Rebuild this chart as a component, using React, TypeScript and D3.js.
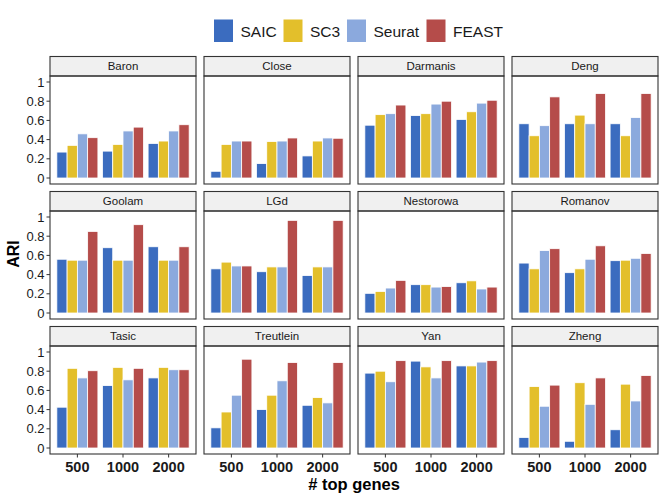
import React from "react";
import * as d3 from "d3";

const datasets = ["Baron", "Close", "Darmanis", "Deng", "Goolam", "LGd", "Nestorowa", "Romanov", "Tasic", "Treutlein", "Yan", "Zheng"];
const geneCounts = ["500", "1000", "2000"];
const methods = ["SAIC", "SC3", "Seurat", "FEAST"];
const methodColors = ["#3B6CBF", "#E3BF2B", "#8BA9DD", "#B54C4A"];
const yTicks = [0, 0.2, 0.4, 0.6, 0.8, 1];
const yTickLabels = ["0", "0.2", "0.4", "0.6", "0.8", "1"];

// values[dataset] = per gene count: [SAIC, SC3, Seurat, FEAST]
const baron = [[0.27, 0.34, 0.46, 0.42], [0.28, 0.35, 0.49, 0.53], [0.36, 0.385, 0.49, 0.555]];
const close = [[0.07, 0.35, 0.385, 0.385], [0.15, 0.38, 0.385, 0.417], [0.23, 0.385, 0.417, 0.414]];
const darmanis = [[0.55, 0.66, 0.67, 0.76], [0.65, 0.67, 0.77, 0.80], [0.61, 0.69, 0.78, 0.81]];
const deng = [[0.565, 0.44, 0.545, 0.845], [0.565, 0.655, 0.565, 0.88], [0.565, 0.44, 0.63, 0.88]];
const goolam = [[0.56, 0.55, 0.55, 0.85], [0.68, 0.55, 0.55, 0.92], [0.69, 0.55, 0.55, 0.69]];
const lgd = [[0.46, 0.53, 0.49, 0.49], [0.43, 0.48, 0.48, 0.965], [0.39, 0.48, 0.48, 0.965]];
const nestorowa = [[0.205, 0.225, 0.26, 0.34], [0.295, 0.295, 0.27, 0.275], [0.315, 0.335, 0.25, 0.27]];
const romanov = [[0.52, 0.46, 0.65, 0.67], [0.42, 0.46, 0.56, 0.70], [0.545, 0.55, 0.57, 0.62]];
const tasic = [[0.425, 0.83, 0.73, 0.805], [0.65, 0.84, 0.71, 0.83], [0.73, 0.84, 0.815, 0.815]];
const treutlein = [[0.21, 0.375, 0.55, 0.925], [0.40, 0.55, 0.70, 0.89], [0.445, 0.525, 0.47, 0.89]];
const yan = [[0.78, 0.80, 0.69, 0.91], [0.905, 0.845, 0.73, 0.91], [0.855, 0.855, 0.895, 0.91]];
const zheng = [[0.11, 0.64, 0.435, 0.655], [0.07, 0.68, 0.455, 0.73], [0.19, 0.665, 0.49, 0.755]];
const allValues = [baron, close, darmanis, deng, goolam, lgd, nestorowa, romanov, tasic, treutlein, yan, zheng];

const W = 666;
const H = 500;
const FONT = "'Liberation Sans', Arial, Helvetica, sans-serif";

export default function App() {
  const panelW = 146;
  const colX = [50, 204, 358, 512];
  const rowTop = [56.5, 191.5, 326.5];
  const stripH = 19.5;
  const bodyH = 108;

  const y = d3.scaleLinear().domain([-0.0625, 1.0625]).range([bodyH, 0]);
  const xGroup = d3.scaleBand<string>().domain(geneCounts).range([0, panelW]).paddingInner(0.1).paddingOuter(0.15);
  const xInner = d3.scaleBand<string>().domain(methods).range([0, xGroup.bandwidth()]);
  const color = d3.scaleOrdinal<string, string>().domain(methods).range(methodColors);

  const legendKeyX = [214, 283.5, 347, 426.5];

  return (
    <svg width={W} height={H} style={{ position: "absolute", left: 0, top: 0, fontFamily: FONT }}>
      <rect width={W} height={H} fill="#fff" />
      {/* legend */}
      {methods.map((m, i) => (
        <g key={m}>
          <rect x={legendKeyX[i]} y={19.5} width={19} height={22.5} fill={color(m)} />
          <text x={legendKeyX[i] + 26.5} y={36.5} fontSize={15.5} fill="#1a1a1a">{m}</text>
        </g>
      ))}
      {datasets.map((ds, di) => {
        const col = di % 4;
        const row = Math.floor(di / 4);
        const px = colX[col];
        const py = rowTop[row];
        const by = py + stripH;
        const vals = allValues[di];
        return (
          <g key={ds}>
            <rect x={px} y={py} width={panelW} height={stripH} fill="#F0F0F0" stroke="#333" strokeWidth={1.1} />
            <text x={px + panelW / 2} y={py + stripH / 2 + 4} textAnchor="middle" fontSize={11.5} fill="#1a1a1a">{ds}</text>
            <g transform={`translate(${px},${by})`}>
              {geneCounts.map((g, gi) =>
                methods.map((m, mi) => {
                  const v = vals[gi][mi];
                  const x0 = (xGroup(g) as number) + (xInner(m) as number);
                  return (
                    <rect
                      key={g + m}
                      x={x0}
                      y={y(v)}
                      width={xInner.bandwidth()}
                      height={y(0) - y(v)}
                      fill={color(m)}
                      stroke="#fff"
                      strokeWidth={0.8}
                    />
                  );
                })
              )}
              <rect x={0} y={0} width={panelW} height={bodyH} fill="none" stroke="#333" strokeWidth={1.1} />
              {col === 0 &&
                yTicks.map((t, ti) => (
                  <g key={t}>
                    <line x1={-3.5} x2={0} y1={y(t)} y2={y(t)} stroke="#333" strokeWidth={1} />
                    <text x={-5.5} y={y(t) + 4.5} textAnchor="end" fontSize={13} fill="#1a1a1a">{yTickLabels[ti]}</text>
                  </g>
                ))}
              {row === 2 &&
                geneCounts.map((g) => {
                  const cx = (xGroup(g) as number) + xGroup.bandwidth() / 2;
                  return (
                    <g key={g}>
                      <line x1={cx} x2={cx} y1={bodyH} y2={bodyH + 3.5} stroke="#333" strokeWidth={1} />
                      <text x={cx} y={bodyH + 17.5} textAnchor="middle" fontSize={14.5} fontWeight="bold" fill="#1a1a1a">{g}</text>
                    </g>
                  );
                })}
            </g>
          </g>
        );
      })}
      <text
        transform={`translate(18.5,254) rotate(-90)`}
        textAnchor="middle"
        fontSize={16}
        fontWeight="bold"
        fill="#000"
      >
        ARI
      </text>
      <text x={354} y={490} textAnchor="middle" fontSize={16.5} fontWeight="bold" fill="#000"># top genes</text>
    </svg>
  );
}
